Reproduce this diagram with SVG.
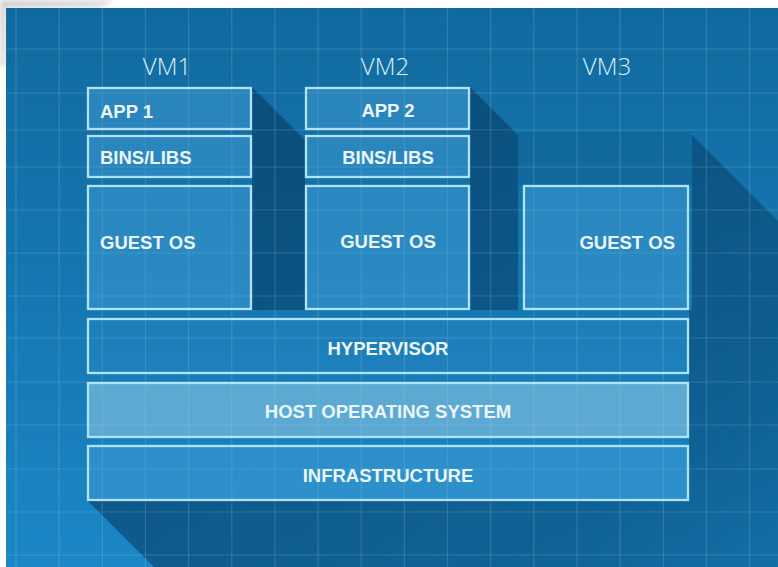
<svg xmlns="http://www.w3.org/2000/svg" width="778" height="567" viewBox="0 0 778 567">
  <defs>
    <linearGradient id="bg" gradientUnits="userSpaceOnUse" x1="0" y1="8" x2="0" y2="567">
      <stop offset="0" stop-color="#116a9f"/>
      <stop offset="0.5" stop-color="#1577b1"/>
      <stop offset="1" stop-color="#1b87c6"/>
    </linearGradient>
    <linearGradient id="shadow" gradientUnits="userSpaceOnUse" x1="300" y1="250" x2="820" y2="700">
      <stop offset="0" stop-color="#053d66" stop-opacity="0.62"/>
      <stop offset="0.6" stop-color="#053d66" stop-opacity="0.47"/>
      <stop offset="1" stop-color="#053d66" stop-opacity="0.22"/>
    </linearGradient>
    <linearGradient id="corner" x1="0" y1="0" x2="1" y2="1">
      <stop offset="0" stop-color="#d2d2d2"/>
      <stop offset="1" stop-color="#efefef"/>
    </linearGradient>
    <filter id="soft" x="-20%" y="-20%" width="140%" height="140%">
      <feGaussianBlur stdDeviation="2"/>
    </filter>
  </defs>
  <style>
    .box { fill: rgba(75,165,220,0.42); stroke: #b0e2f8; stroke-width: 2.3; }
    .hyper { fill: rgba(75,165,220,0.14); }
    .host { fill: rgba(150,205,232,0.55); }
    .infra { fill: rgba(75,165,220,0.40); }
    .lbl { font-family: "Liberation Sans", Arial, sans-serif; font-weight: bold; font-size: 18.5px; fill: #eaf6fc; }
    .mid { text-anchor: middle; }
    .vm { font-family: "Open Sans", "Liberation Sans", sans-serif; font-weight: 300; font-size: 24px; fill: #dcf0fa; text-anchor: middle; }
    .grid line { stroke: #ffffff; stroke-opacity: 0.14; stroke-width: 1.2; }
  </style>

  <!-- page margin -->
  <rect x="0" y="0" width="778" height="567" fill="#ffffff"/>
  <path d="M0,0 H114 L100,8 H6 V64 L0,68 Z" fill="url(#corner)" filter="url(#soft)"/>

  <!-- blue background -->
  <rect x="6" y="8" width="772" height="559" fill="url(#bg)"/>

  <!-- long shadow (union of swept shapes) -->
  <path fill="url(#shadow)" d="
    M87,87 L252,87 L852,687 L852,910 L687,910 L87,310 Z
    M305,87 L470,87 L1070,687 L1070,910 L905,910 L305,310 Z
    M523,132 L689,132 L1289,732 L1289,910 L1123,910 L523,310 Z
    M87,318 L689,318 L1289,918 L1289,1100 L687,1100 L87,500 Z"/>

  <!-- base under boxes (hides shadow beneath) -->
  <g fill="url(#bg)">
    <rect x="87" y="87" width="165" height="223"/>
    <rect x="305" y="87" width="165" height="223"/>
    <rect x="518" y="132" width="174" height="178"/>
    <rect x="87" y="310" width="602" height="191"/>
  </g>
  <rect x="518" y="132" width="174" height="54" fill="#000000" fill-opacity="0.07"/>

  <!-- grid -->
  <g class="grid">
    <line x1="16" y1="8" x2="16" y2="567"/>
    <line x1="59.2" y1="8" x2="59.2" y2="567"/>
    <line x1="102.3" y1="8" x2="102.3" y2="567"/>
    <line x1="145.5" y1="8" x2="145.5" y2="567"/>
    <line x1="188.6" y1="8" x2="188.6" y2="567"/>
    <line x1="231.8" y1="8" x2="231.8" y2="567"/>
    <line x1="274.9" y1="8" x2="274.9" y2="567"/>
    <line x1="318.1" y1="8" x2="318.1" y2="567"/>
    <line x1="361.2" y1="8" x2="361.2" y2="567"/>
    <line x1="404.4" y1="8" x2="404.4" y2="567"/>
    <line x1="447.5" y1="8" x2="447.5" y2="567"/>
    <line x1="490.7" y1="8" x2="490.7" y2="567"/>
    <line x1="533.8" y1="8" x2="533.8" y2="567"/>
    <line x1="577" y1="8" x2="577" y2="567"/>
    <line x1="620.1" y1="8" x2="620.1" y2="567"/>
    <line x1="663.3" y1="8" x2="663.3" y2="567"/>
    <line x1="706.4" y1="8" x2="706.4" y2="567"/>
    <line x1="749.6" y1="8" x2="749.6" y2="567"/>
    <line x1="6" y1="49" x2="778" y2="49"/>
    <line x1="6" y1="93" x2="778" y2="93"/>
    <line x1="6" y1="130" x2="778" y2="130"/>
    <line x1="6" y1="167" x2="778" y2="167"/>
    <line x1="6" y1="210" x2="778" y2="210"/>
    <line x1="6" y1="253" x2="778" y2="253"/>
    <line x1="6" y1="296" x2="778" y2="296"/>
    <line x1="6" y1="338" x2="778" y2="338"/>
    <line x1="6" y1="382" x2="778" y2="382"/>
    <line x1="6" y1="425" x2="778" y2="425"/>
    <line x1="6" y1="469" x2="778" y2="469"/>
    <line x1="6" y1="512" x2="778" y2="512"/>
    <line x1="6" y1="555" x2="778" y2="555"/>
  </g>

  <!-- VM titles -->
  <g id="vm-labels">
    <text class="vm" x="167" y="75">VM1</text>
    <text class="vm" x="385" y="75">VM2</text>
    <text class="vm" x="607" y="75">VM3</text>
  </g>

  <g id="app1"><rect class="box" x="88" y="88" width="163" height="41"/><text class="lbl" x="100" y="118">APP 1</text></g>
  <g id="bins1"><rect class="box" x="88" y="136" width="163" height="41"/><text class="lbl" x="100" y="164">BINS/LIBS</text></g>
  <g id="guest1"><rect class="box" x="88" y="186" width="163" height="123"/><text class="lbl" x="100" y="249">GUEST OS</text></g>

  <g id="app2"><rect class="box" x="306" y="88" width="163" height="41"/><text class="lbl mid" x="388" y="117">APP 2</text></g>
  <g id="bins2"><rect class="box" x="306" y="136" width="163" height="41"/><text class="lbl mid" x="388" y="164">BINS/LIBS</text></g>
  <g id="guest2"><rect class="box" x="306" y="186" width="163" height="123"/><text class="lbl mid" x="388" y="248">GUEST OS</text></g>

  <g id="guest3"><rect class="box" x="524" y="186" width="164" height="123"/><text class="lbl" x="675" y="249" text-anchor="end">GUEST OS</text></g>

  <g id="hypervisor"><rect class="box hyper" x="88" y="319" width="600" height="54"/><text class="lbl mid" x="388" y="355">HYPERVISOR</text></g>
  <g id="host-os"><rect class="box host" x="88" y="383" width="600" height="54"/><text class="lbl mid" x="388" y="418">HOST OPERATING SYSTEM</text></g>
  <g id="infrastructure"><rect class="box infra" x="88" y="446" width="600" height="54"/><text class="lbl mid" x="388" y="482">INFRASTRUCTURE</text></g>

  <g id="connectors"/>
</svg>
